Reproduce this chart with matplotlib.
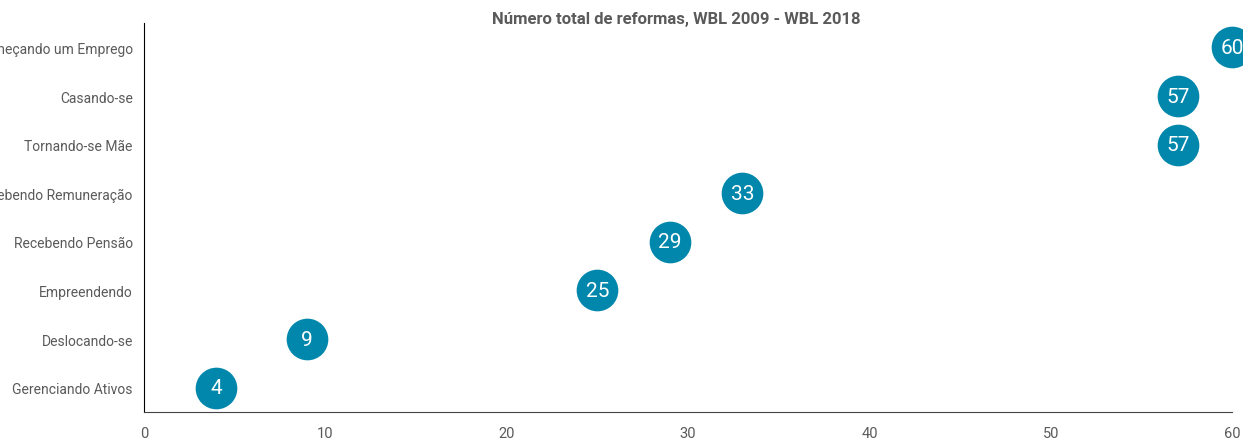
import matplotlib.pyplot as plt

categorias = ['Gerenciando Ativos', 'Deslocando-se', 'Empreendendo', 'Recebendo Pensão',
              'Recebendo Remuneração', 'Tornando-se Mãe', 'Casando-se', 'Começando um Emprego']
reformas = [4, 9, 25, 29, 33, 57, 57, 60]
xticks = [0, 10, 20, 30, 40, 50, 60]

fonte = ['Roboto', 'DejaVu Sans']
cinza = '#5a5a5a'
azul = '#0087ab'

fig = plt.figure(figsize=(12.43, 4.39), dpi=100)
ax = fig.add_axes([0.1158, 0.0592, 0.8755, 0.8858])

ypos = list(range(len(categorias)))
ax.scatter(reformas, ypos, s=900, color=azul, zorder=3, clip_on=False, linewidths=0)
for x, y in zip(reformas, ypos):
    ax.text(x, y, str(x), ha='center', va='center', color='white', fontsize=15,
            family=fonte, zorder=4)

ax.set_xlim(0, 60)
ax.set_ylim(-0.5, len(categorias) - 0.5)
ax.set_yticks(ypos)
ax.set_yticklabels(categorias, family=fonte, fontsize=10, color=cinza)
ax.set_xticks(xticks)
ax.set_xticklabels([str(t) for t in xticks], family=fonte, fontsize=10.5, color=cinza)
ax.tick_params(axis='both', length=0)
ax.tick_params(axis='y', pad=8)
ax.tick_params(axis='x', pad=10)

for s in ['top', 'right']:
    ax.spines[s].set_visible(False)
ax.spines['left'].set_color('black')
ax.spines['bottom'].set_color('#444444')

fig.text(0.544, 0.955, 'Número total de reformas, WBL 2009 - WBL 2018', ha='center', va='center',
         fontsize=12, fontweight='bold', color=cinza, family=fonte)

fig.savefig('out.png', dpi=100)
